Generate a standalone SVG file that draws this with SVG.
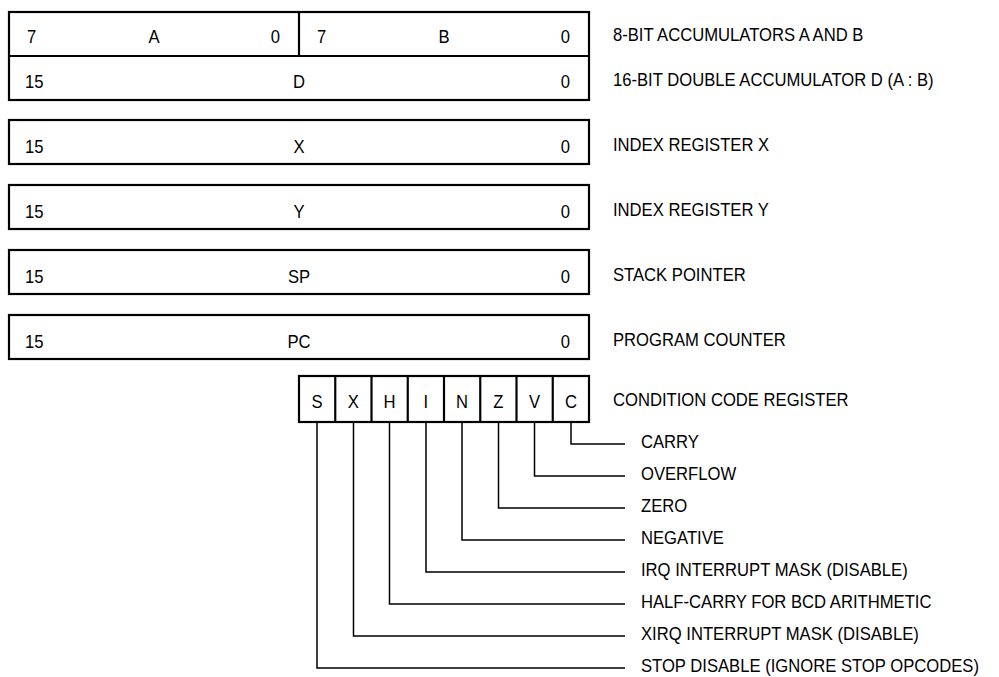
<svg xmlns="http://www.w3.org/2000/svg" width="999" height="677" viewBox="0 0 999 677">
<style>
  .box { fill: #fff; stroke: #000; stroke-width: 2.2; }
  .div { stroke: #000; stroke-width: 2.2; fill: none; }
  .wire { stroke: #000; stroke-width: 1.5; fill: none; }
  text { font-family: "Liberation Sans", Arial, sans-serif; font-size: 18.5px; fill: #000; transform-box: fill-box; transform: scaleX(0.9); }
  .s { text-anchor: start; transform-origin: left center; }
  .m { text-anchor: middle; transform-origin: center center; }
  .e { text-anchor: end; transform-origin: right center; }
</style>
<rect width="999" height="677" fill="#fff"/>

<g id="reg-ab-d">
  <rect class="box" x="9" y="12" width="580" height="88"/>
  <line class="div" x1="9" y1="56" x2="589" y2="56"/>
  <line class="div" x1="299" y1="12" x2="299" y2="56"/>
  <text class="s" x="27" y="43">7</text>
  <text class="m" x="154" y="43">A</text>
  <text class="e" x="280" y="43">0</text>
  <text class="s" x="317" y="43">7</text>
  <text class="m" x="444" y="43">B</text>
  <text class="e" x="570" y="43">0</text>
  <text class="s" x="25" y="88">15</text>
  <text class="m" x="299" y="88">D</text>
  <text class="e" x="570" y="88">0</text>
  <text class="s" x="613" y="41">8-BIT ACCUMULATORS A AND B</text>
  <text class="s" x="613" y="86">16-BIT DOUBLE ACCUMULATOR D (A : B)</text>
</g>

<g id="reg-x">
  <rect class="box" x="9" y="120" width="580" height="44"/>
  <text class="s" x="25" y="153">15</text>
  <text class="m" x="299" y="153">X</text>
  <text class="e" x="570" y="153">0</text>
  <text class="s" x="613" y="151">INDEX REGISTER X</text>
</g>

<g id="reg-y">
  <rect class="box" x="9" y="185" width="580" height="44"/>
  <text class="s" x="25" y="218">15</text>
  <text class="m" x="299" y="218">Y</text>
  <text class="e" x="570" y="218">0</text>
  <text class="s" x="613" y="216">INDEX REGISTER Y</text>
</g>

<g id="reg-sp">
  <rect class="box" x="9" y="250" width="580" height="44"/>
  <text class="s" x="25" y="283">15</text>
  <text class="m" x="299" y="283">SP</text>
  <text class="e" x="570" y="283">0</text>
  <text class="s" x="613" y="281">STACK POINTER</text>
</g>

<g id="reg-pc">
  <rect class="box" x="9" y="315" width="580" height="44"/>
  <text class="s" x="25" y="348">15</text>
  <text class="m" x="299" y="348">PC</text>
  <text class="e" x="570" y="348">0</text>
  <text class="s" x="613" y="346">PROGRAM COUNTER</text>
</g>

<g id="reg-ccr">
  <rect class="box" x="299" y="376" width="290" height="46"/>
  <line class="div" x1="335.25" y1="376" x2="335.25" y2="422"/>
  <line class="div" x1="371.5" y1="376" x2="371.5" y2="422"/>
  <line class="div" x1="407.75" y1="376" x2="407.75" y2="422"/>
  <line class="div" x1="444" y1="376" x2="444" y2="422"/>
  <line class="div" x1="480.25" y1="376" x2="480.25" y2="422"/>
  <line class="div" x1="516.5" y1="376" x2="516.5" y2="422"/>
  <line class="div" x1="552.75" y1="376" x2="552.75" y2="422"/>
  <text class="m" x="317.1" y="408">S</text>
  <text class="m" x="353.4" y="408">X</text>
  <text class="m" x="389.6" y="408">H</text>
  <text class="m" x="425.9" y="408">I</text>
  <text class="m" x="462.1" y="408">N</text>
  <text class="m" x="498.4" y="408">Z</text>
  <text class="m" x="534.6" y="408">V</text>
  <text class="m" x="570.9" y="408">C</text>
  <text class="s" x="613" y="406">CONDITION CODE REGISTER</text>
</g>

<g id="connectors">
  <polyline class="wire" points="571,422 571,444 625,444"/>
  <polyline class="wire" points="534.5,422 534.5,476 625,476"/>
  <polyline class="wire" points="498.5,422 498.5,508 625,508"/>
  <polyline class="wire" points="462,422 462,540 625,540"/>
  <polyline class="wire" points="426,422 426,572 625,572"/>
  <polyline class="wire" points="389.5,422 389.5,604 625,604"/>
  <polyline class="wire" points="353.5,422 353.5,636 625,636"/>
  <polyline class="wire" points="317,422 317,668 625,668"/>
</g>

<g id="bit-labels">
  <text class="s" x="641" y="448">CARRY</text>
  <text class="s" x="641" y="480">OVERFLOW</text>
  <text class="s" x="641" y="512">ZERO</text>
  <text class="s" x="641" y="544">NEGATIVE</text>
  <text class="s" x="641" y="576">IRQ INTERRUPT MASK (DISABLE)</text>
  <text class="s" x="641" y="608">HALF-CARRY FOR BCD ARITHMETIC</text>
  <text class="s" x="641" y="640">XIRQ INTERRUPT MASK (DISABLE)</text>
  <text class="s" x="641" y="672">STOP DISABLE (IGNORE STOP OPCODES)</text>
</g>
</svg>
